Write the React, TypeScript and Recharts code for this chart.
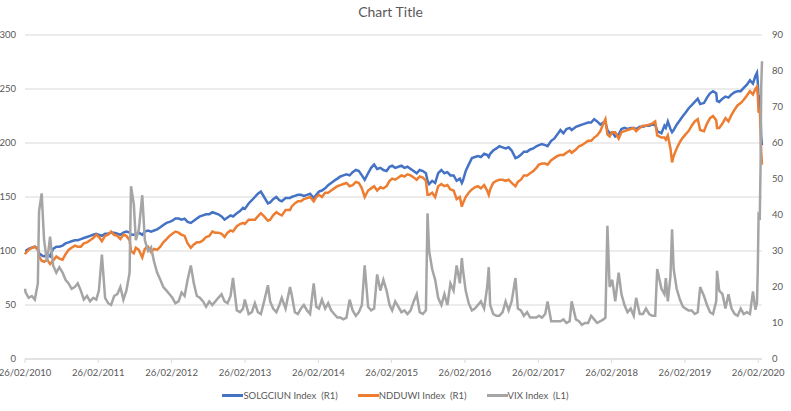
import { CartesianGrid, Legend, Line, LineChart, XAxis, YAxis } from "recharts";

const dates = [
  // 2010
  "2010-02-26", "2010-03-01", "2010-03-16", "2010-04-01", "2010-04-16", "2010-05-01", "2010-05-07", "2010-05-20",
  "2010-06-01", "2010-06-16", "2010-07-01", "2010-07-16", "2010-08-01", "2010-08-16", "2010-09-01", "2010-09-16",
  "2010-10-01", "2010-10-16", "2010-11-01", "2010-11-16", "2010-12-01", "2010-12-16",
  // 2011
  "2011-01-01", "2011-01-16", "2011-02-01", "2011-02-16", "2011-03-01", "2011-03-16", "2011-04-01", "2011-04-16",
  "2011-05-01", "2011-05-16", "2011-06-01", "2011-06-16", "2011-07-01", "2011-07-16", "2011-08-01", "2011-08-08",
  "2011-08-22", "2011-09-01", "2011-09-16", "2011-10-03", "2011-10-16", "2011-11-01", "2011-11-16", "2011-12-01",
  "2011-12-16",
  // 2012
  "2012-01-01", "2012-01-16", "2012-02-01", "2012-02-16", "2012-03-01", "2012-03-16", "2012-04-01", "2012-04-16",
  "2012-05-01", "2012-05-16", "2012-06-01", "2012-06-16", "2012-07-01", "2012-07-16", "2012-08-01", "2012-08-16",
  "2012-09-01", "2012-09-16", "2012-10-01", "2012-10-16", "2012-11-01", "2012-11-16", "2012-12-01", "2012-12-16",
  "2012-12-28",
  // 2013
  "2013-01-16", "2013-02-01", "2013-02-16", "2013-02-25", "2013-03-16", "2013-04-01", "2013-04-16", "2013-05-01",
  "2013-05-16", "2013-06-01", "2013-06-20", "2013-07-01", "2013-07-16", "2013-08-01", "2013-08-16", "2013-08-28",
  "2013-09-16", "2013-10-08", "2013-10-16", "2013-11-01", "2013-11-16", "2013-12-01", "2013-12-16",
  // 2014
  "2014-01-01", "2014-01-16", "2014-02-03", "2014-02-16", "2014-03-01", "2014-03-16", "2014-04-01", "2014-04-16",
  "2014-05-01", "2014-05-16", "2014-06-01", "2014-06-16", "2014-07-01", "2014-07-16", "2014-08-01", "2014-08-16",
  "2014-09-01", "2014-09-16", "2014-10-01", "2014-10-15", "2014-11-01", "2014-11-16", "2014-12-01", "2014-12-16",
  // 2015
  "2015-01-01", "2015-01-16", "2015-02-01", "2015-02-16", "2015-03-01", "2015-03-16", "2015-04-01", "2015-04-16",
  "2015-05-01", "2015-05-16", "2015-06-01", "2015-06-16", "2015-07-01", "2015-07-16", "2015-08-01", "2015-08-16",
  "2015-08-24", "2015-09-01", "2015-09-16", "2015-10-01", "2015-10-16", "2015-11-01", "2015-11-16", "2015-12-01",
  "2015-12-16",
  // 2016
  "2016-01-01", "2016-01-16", "2016-02-01", "2016-02-11", "2016-02-16", "2016-03-01", "2016-03-16", "2016-04-01",
  "2016-04-16", "2016-05-01", "2016-05-16", "2016-06-01", "2016-06-16", "2016-06-24", "2016-07-01", "2016-07-16",
  "2016-08-01", "2016-08-16", "2016-09-01", "2016-09-16", "2016-10-01", "2016-10-16", "2016-11-04", "2016-11-16",
  "2016-12-01", "2016-12-16",
  // 2017
  "2017-01-01", "2017-01-16", "2017-02-01", "2017-02-16", "2017-03-01", "2017-03-16", "2017-04-01", "2017-04-13",
  "2017-05-01", "2017-05-16", "2017-06-01", "2017-06-16", "2017-07-01", "2017-07-16", "2017-08-01", "2017-08-11",
  "2017-09-01", "2017-09-16", "2017-10-01", "2017-10-16", "2017-11-01", "2017-11-16", "2017-12-01", "2017-12-16",
  // 2018
  "2018-01-01", "2018-01-16", "2018-01-26", "2018-02-05", "2018-02-16", "2018-03-01", "2018-03-16", "2018-04-02",
  "2018-04-16", "2018-05-01", "2018-05-16", "2018-06-01", "2018-06-16", "2018-06-28", "2018-07-16", "2018-08-01",
  "2018-08-16", "2018-09-01", "2018-09-16", "2018-10-01", "2018-10-11", "2018-11-01", "2018-11-16", "2018-11-23",
  "2018-12-03", "2018-12-16", "2018-12-24",
  // 2019
  "2019-01-01", "2019-01-16", "2019-02-01", "2019-02-16", "2019-03-01", "2019-03-16", "2019-04-01", "2019-04-16",
  "2019-05-01", "2019-05-13", "2019-06-01", "2019-06-16", "2019-07-01", "2019-07-16", "2019-08-01", "2019-08-05",
  "2019-08-16", "2019-09-01", "2019-09-16", "2019-10-01", "2019-10-16", "2019-11-01", "2019-11-16", "2019-12-01",
  "2019-12-16",
  // 2020
  "2020-01-01", "2020-01-16", "2020-01-31", "2020-02-12", "2020-02-20", "2020-02-24", "2020-02-28", "2020-03-05",
  "2020-03-09", "2020-03-12", "2020-03-16",
];

const solgciun = [
  100, 100, 102, 103, 104, 102, 98, 96, 95, 97, 95, 102, 104, 104, 105, 107, 108, 109, 110, 110, 111, 112,
  113, 114, 115, 116, 115, 114, 116, 116, 117, 117, 116, 115, 117, 118, 117, 115, 115, 116, 117, 115, 118, 119, 118, 119, 120,
  122, 124, 126, 127, 128, 130, 130, 129, 130, 127, 126, 128, 130, 132, 133, 134, 134, 136, 135, 134, 132, 129, 131, 133, 132,
  135, 137, 140, 139, 144, 147, 150, 153, 155, 150, 144, 145, 148, 150, 147, 146, 149, 149, 150, 151, 152, 152, 151,
  152, 153, 149, 152, 155, 156, 158, 161, 163, 165, 167, 169, 170, 171, 170, 173, 175, 174, 170, 166, 172, 177, 180, 176,
  177, 175, 174, 178, 179, 177, 178, 179, 177, 178, 176, 174, 172, 175, 174, 172, 165, 162, 165, 163, 172, 175, 172, 173, 170,
  170, 165, 167, 163, 165, 174, 180, 186, 187, 188, 187, 190, 189, 187, 190, 193, 195, 197, 196, 195, 196, 193, 186, 187, 189, 192,
  192, 194, 195, 197, 198, 199, 198, 197, 202, 204, 208, 212, 209, 213, 214, 212, 215, 216, 217, 218, 219, 219, 222, 220,
  217, 219, 219, 212, 209, 210, 206, 208, 213, 214, 213, 214, 214, 213, 215, 215, 216, 216, 217, 217, 211, 209, 216, 214, 220, 213, 210,
  212, 217, 221, 225, 228, 232, 235, 238, 241, 236, 237, 242, 246, 248, 246, 239, 238, 241, 243, 242, 245, 247, 248, 248, 251,
  254, 258, 255, 262, 265, 256, 240, 242, 226, 206, 198,
];

const ndduwi = [
  97, 98, 101, 103, 104, 101, 95, 91, 90, 92, 88, 91, 95, 93, 92, 97, 101, 103, 105, 104, 104, 107,
  108, 110, 112, 115, 113, 109, 114, 115, 118, 115, 114, 111, 115, 114, 110, 100, 98, 103, 101, 94, 102, 104, 99, 102, 101,
  104, 108, 111, 114, 116, 118, 117, 115, 114, 107, 103, 106, 108, 108, 110, 113, 114, 118, 117, 117, 116, 113, 117, 119, 118,
  123, 125, 126, 125, 129, 129, 129, 132, 135, 132, 128, 129, 133, 136, 134, 133, 138, 138, 141, 144, 146, 146, 148,
  149, 150, 146, 150, 152, 150, 154, 154, 156, 158, 160, 161, 162, 163, 160, 161, 164, 163, 158, 150, 156, 158, 160, 156,
  159, 158, 160, 165, 167, 166, 168, 170, 169, 171, 170, 168, 166, 169, 168, 165, 152, 152, 154, 150, 160, 162, 160, 161, 157,
  156, 148, 150, 141, 144, 150, 154, 157, 159, 160, 158, 161, 156, 152, 157, 163, 165, 166, 166, 165, 166, 163, 160, 164, 166, 170,
  170, 172, 174, 177, 180, 181, 181, 180, 184, 186, 188, 189, 189, 191, 193, 191, 194, 197, 198, 200, 202, 202, 205, 207,
  211, 218, 222, 208, 206, 210, 210, 204, 210, 211, 212, 213, 214, 211, 214, 216, 216, 217, 218, 220, 207, 205, 205, 203, 207, 195, 182,
  188, 195, 201, 205, 208, 211, 216, 220, 222, 212, 211, 218, 223, 225, 221, 214, 214, 218, 223, 220, 226, 231, 235, 237, 240,
  244, 248, 245, 250, 252, 244, 228, 231, 212, 192, 180,
];

const vix = [
  19.5, 18.5, 17, 17.5, 16.5, 21, 41, 46, 33, 27, 34, 26, 24, 25.5, 24, 22, 21, 19.5, 20, 21, 19, 16.5,
  17.5, 16, 17, 16.5, 19, 29, 17, 15.5, 15, 17.5, 18, 20, 16.5, 19, 24, 48, 43, 33, 36, 45.5, 33, 30, 31, 27, 24,
  22, 20, 19, 18, 17, 15.5, 16, 18.5, 17.5, 22, 26, 21, 17.5, 17, 16, 14.5, 16, 15, 16, 17, 18, 16, 15.5, 17.5, 22.5,
  13.5, 13, 14, 16.5, 12.5, 13, 15.5, 13, 12.5, 16, 20.5, 16, 14, 13, 15, 17, 14, 20, 18, 13, 12.5, 14, 15,
  13.5, 12.5, 21, 14.5, 14, 16.5, 14, 15.5, 13.5, 12.5, 11.5, 11.5, 11, 11.5, 16.5, 13.5, 12, 13, 15, 26, 14.5, 13.5, 14, 23.5,
  19, 22, 19, 15, 13.5, 16, 14.5, 13, 13.5, 12.5, 13.5, 16, 18, 13, 12.5, 13.5, 40.5, 30, 25, 22, 17, 15, 18, 15, 21,
  19, 26, 21, 28, 25, 19, 15.5, 13.5, 14, 15, 16, 14, 20, 25.5, 15, 12.5, 12, 12, 13, 16, 13.5, 16, 22.5, 14, 13.5, 12,
  13, 11.5, 11.5, 11.5, 12, 11.5, 12.5, 16, 10.5, 10.5, 10.5, 10.5, 11, 10, 10.5, 16, 11, 10.5, 9.5, 10, 10, 12, 11, 10,
  10.5, 11, 11.5, 37, 20, 22, 16, 24, 18, 15, 13, 14, 12, 17, 12.5, 12.5, 14, 12.5, 12, 12, 25, 19.5, 18, 22.5, 16, 23, 36,
  25, 19.5, 16.5, 14.5, 14, 13.5, 13.5, 12.5, 13, 20, 17.5, 15, 13, 12.5, 16, 24.5, 19, 18, 14, 18, 14, 12.5, 12, 14, 12.5,
  13, 12.5, 18.8, 13.7, 15.5, 25, 40, 39.5, 54, 75.5, 82.7,
];

const tickYears = [2010, 2011, 2012, 2013, 2014, 2015, 2016, 2017, 2018, 2019, 2020];
const leftTicks = [0, 50, 100, 150, 200, 250, 300];
const rightTicks = [0, 10, 20, 30, 40, 50, 60, 70, 80, 90];

// draw order = legend order
const series = [
  { key: "solgciun", name: "SOLGCIUN Index  (R1)", color: "#4472C4", axis: "left" },
  { key: "ndduwi", name: "NDDUWI Index  (R1)", color: "#ED7D31", axis: "left" },
  { key: "vix", name: "VIX Index  (L1)", color: "#A5A5A5", axis: "right" },
];

const toTime = (s: string) => {
  const [y, m, d] = s.split("-").map(Number);
  return Date.UTC(y, m - 1, d);
};

const data = dates.map((d, i) => ({
  t: toTime(d),
  solgciun: solgciun[i],
  ndduwi: ndduwi[i],
  vix: vix[i],
}));

const xTicks = tickYears.map((y) => Date.UTC(y, 1, 26));

const fmtDate = (t: number) => {
  const d = new Date(t);
  const dd = String(d.getUTCDate()).padStart(2, "0");
  const mm = String(d.getUTCMonth() + 1).padStart(2, "0");
  return `${dd}/${mm}/${d.getUTCFullYear()}`;
};

const FONT = "Lato, 'Noto Sans', sans-serif";
const TEXT = "#595959";
const GRID = "#d9d9d9";
const tickStyle = { fill: TEXT, fontSize: 9.5, fontFamily: FONT };

function LegendRow() {
  return (
    <div
      style={{
        display: "flex",
        justifyContent: "center",
        alignItems: "center",
        gap: 20,
        height: 20,
        fontFamily: FONT,
        fontSize: 9.5,
        color: TEXT,
      }}
    >
      {series.map((s) => (
        <span key={s.key} style={{ display: "flex", alignItems: "center", whiteSpace: "pre" }}>
          <span style={{ width: 21, height: 3, background: s.color, display: "inline-block" }} />
          {s.name}
        </span>
      ))}
    </div>
  );
}

export default function App() {
  return (
    <div style={{ position: "absolute", left: 0, top: 0, width: 791, height: 411, background: "#fff" }}>
      <div
        style={{
          position: "absolute",
          left: 0,
          top: 0,
          width: 781,
          height: 24,
          lineHeight: "24px",
          textAlign: "center",
          fontFamily: FONT,
          fontSize: 14,
          color: TEXT,
        }}
      >
        Chart Title
      </div>
      <LineChart width={791} height={411} data={data} margin={{ top: 35, right: 0, bottom: 6, left: 0 }}>
        <CartesianGrid yAxisId="left" vertical={false} stroke={GRID} />
        <XAxis
          dataKey="t"
          type="number"
          domain={[data[0].t, data[data.length - 1].t]}
          ticks={xTicks}
          tickFormatter={fmtDate}
          interval={0}
          height={26}
          tickSize={4}
          tickMargin={6}
          stroke={GRID}
          tick={tickStyle}
        />
        <YAxis
          yAxisId="left"
          domain={[0, 300]}
          ticks={leftTicks}
          width={25}
          axisLine={false}
          tickLine={false}
          tickSize={0}
          tickMargin={9}
          tick={tickStyle}
        />
        <YAxis
          yAxisId="right"
          orientation="right"
          domain={[0, 90]}
          ticks={rightTicks}
          width={29}
          axisLine={false}
          tickLine={false}
          tickSize={0}
          tickMargin={10}
          tick={tickStyle}
        />
        {series.map((s) => (
          <Line
            key={s.key}
            yAxisId={s.axis}
            dataKey={s.key}
            name={s.name}
            stroke={s.color}
            strokeWidth={2.5}
            dot={false}
            isAnimationActive={false}
          />
        ))}
        <Legend verticalAlign="bottom" height={20} content={<LegendRow />} />
      </LineChart>
    </div>
  );
}
